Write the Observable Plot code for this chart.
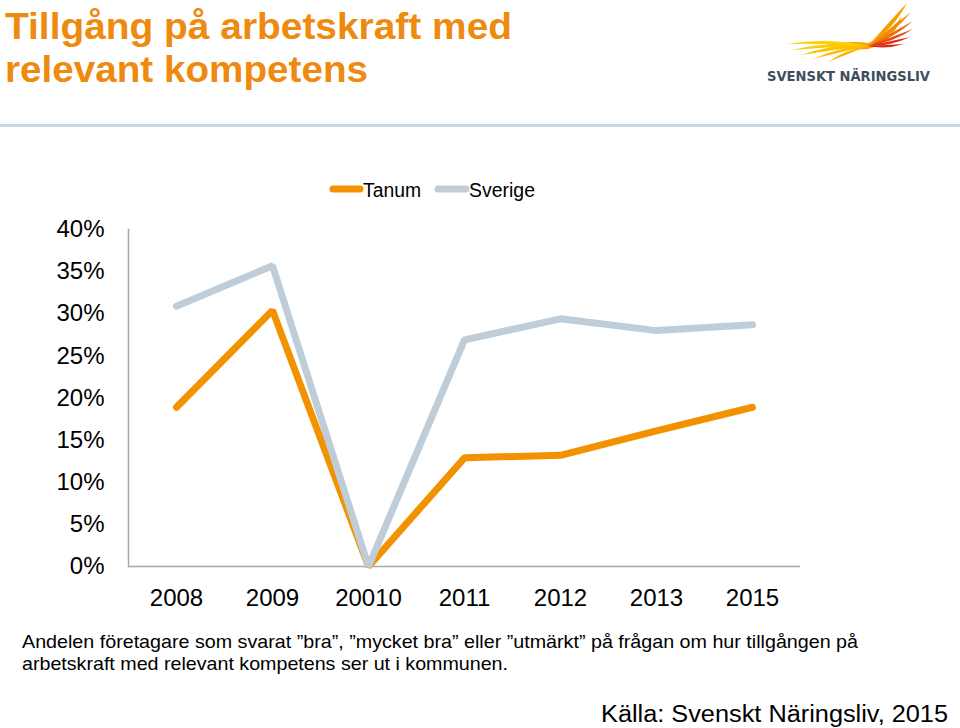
<!DOCTYPE html>
<html>
<head>
<meta charset="utf-8">
<script src="https://cdn.jsdelivr.net/npm/d3@7"></script>
<script src="https://cdn.jsdelivr.net/npm/@observablehq/plot@0.6"></script>
<style>
  html, body { margin: 0; padding: 0; background: #fff; }
  #wrap { position: relative; width: 960px; height: 728px; overflow: hidden; font-family: "Liberation Sans", Arial, sans-serif; }
  #wrap > svg { position: absolute; left: 0; top: 0; }
  #overlay { pointer-events: none; }
</style>
</head>
<body>
<div id="wrap"></div>
<script>
// ---- data ----
const years = ["2008", "2009", "20010", "2011", "2012", "2013", "2015"];
const tanum = [0.189, 0.304, 0.0, 0.129, 0.132, 0.161, 0.189];
const sverige = [0.309, 0.357, 0.0, 0.269, 0.294, 0.280, 0.287];
const seriesNames = ["Tanum", "Sverige"];
const seriesColors = ["#F39200", "#BFCDD9"];
const yTicks = [0, 0.05, 0.10, 0.15, 0.20, 0.25, 0.30, 0.35, 0.40];

const titleLines = ["Tillgång på arbetskraft med", "relevant kompetens"];
const captionLines = [
  "Andelen företagare som svarat ”bra”, ”mycket bra” eller ”utmärkt” på frågan om hur tillgången på",
  "arbetskraft med relevant kompetens ser ut i kommunen."
];
const sourceText = "Källa: Svenskt Näringsliv, 2015";
const logoText = "SVENSKT NÄRINGSLIV";

const rows = [];
years.forEach((y, i) => rows.push({year: y, value: tanum[i], series: "Tanum"}));
years.forEach((y, i) => rows.push({year: y, value: sverige[i], series: "Sverige"}));

const font = "'Liberation Sans', Arial, sans-serif";

const chart = Plot.plot({
  width: 960,
  height: 728,
  marginLeft: 128,
  marginRight: 160,
  marginTop: 229,
  marginBottom: 162,
  style: {fontFamily: font, background: "transparent", color: "#000"},
  x: {type: "point", domain: years, padding: 0.5},
  y: {domain: [0, 0.4]},
  color: {domain: seriesNames, range: seriesColors},
  marks: [
    Plot.frame({anchor: "left", stroke: "#A8A8A8", strokeWidth: 1.5}),
    Plot.ruleY([0], {stroke: "#A8A8A8", strokeWidth: 1.5}),
    Plot.axisY({ticks: yTicks, tickFormat: d3.format(".0%"), tickSize: 0, tickPadding: 24, fontSize: 24, label: null}),
    Plot.axisX({tickSize: 0, tickPadding: 22, fontSize: 24, label: null}),
    Plot.line(rows, {x: "year", y: "value", z: "series", stroke: "series", strokeWidth: 7, strokeLinecap: "round", strokeLinejoin: "miter"})
  ]
});
document.getElementById("wrap").appendChild(chart);

// ---- overlay: title, logo, legend, caption ----
const ov = d3.select("#wrap").append("svg").attr("id", "overlay")
  .attr("width", 960).attr("height", 728);

const titleWidths = [507, 363];
ov.selectAll("text.title").data(titleLines).join("text")
  .attr("x", 5).attr("y", (d, i) => 39 + i * 43)
  .attr("font-family", font).attr("font-weight", "bold").attr("font-size", 37)
  .attr("textLength", (d, i) => titleWidths[i]).attr("lengthAdjust", "spacingAndGlyphs")
  .attr("fill", "#EE8A10").text(d => d);

// separator
ov.append("rect").attr("x", 0).attr("y", 124).attr("width", 960).attr("height", 3).attr("fill", "#CCD6E0");

// logo (decorative wing): feathers radiating from a root point
const root = [868, 46];
const feathers = [
  {tip: [787, 44], c: "#FDD000", w: 3.2},
  {tip: [792, 50], c: "#FDCB00", w: 3.0},
  {tip: [801, 55], c: "#FCC400", w: 3.0},
  {tip: [813, 59], c: "#FBBE00", w: 2.8},
  {tip: [828, 62], c: "#F9B500", w: 2.6},
  {tip: [907, 3], c: "#F6A000", w: 4.2},
  {tip: [911, 12], c: "#F28A0A", w: 3.4},
  {tip: [913, 21], c: "#EE6E14", w: 3.0},
  {tip: [913, 29], c: "#E84A18", w: 2.8},
  {tip: [910, 37], c: "#E3301B", w: 2.6},
  {tip: [904, 44], c: "#DE241C", w: 2.4}
];
function featherPath(r, t, w) {
  const mx = (r[0] + t[0]) / 2, my = (r[1] + t[1]) / 2;
  const dx = t[0] - r[0], dy = t[1] - r[1];
  const L = Math.hypot(dx, dy);
  const px = -dy / L * w, py = dx / L * w;
  const bend = 0.06;
  const bx = mx + (-dy) * bend, by = my + dx * bend;
  return `M${r[0]},${r[1]} Q${bx + px},${by + py} ${t[0]},${t[1]} Q${bx - px},${by - py} ${r[0]},${r[1]} Z`;
}
ov.append("path").attr("d", "M820,46 Q850,40 868,43 Q886,38 902,16 Q892,44 868,49 Q848,50 820,46 Z").attr("fill", "#F7A600");
ov.append("g").selectAll("path").data(feathers).join("path")
  .attr("d", d => featherPath(root, d.tip, d.w)).attr("fill", d => d.c);
ov.append("text").attr("x", 767).attr("y", 81)
  .attr("font-family", "'DejaVu Sans Condensed', 'DejaVu Sans', sans-serif").attr("font-weight", "bold")
  .attr("font-size", 14.5).attr("fill", "#3E4E5C")
  .attr("textLength", 163).attr("lengthAdjust", "spacingAndGlyphs").text(logoText);

// legend
const legendItems = [
  {name: seriesNames[0], color: seriesColors[0], x1: 333, x2: 360, tx: 363, w: 58},
  {name: seriesNames[1], color: seriesColors[1], x1: 438, x2: 466, tx: 469, w: 66}
];
const lg = ov.append("g");
legendItems.forEach(it => {
  lg.append("line").attr("x1", it.x1).attr("x2", it.x2).attr("y1", 189).attr("y2", 189)
    .attr("stroke", it.color).attr("stroke-width", 7).attr("stroke-linecap", "round");
  lg.append("text").attr("x", it.tx).attr("y", 197).attr("font-family", font).attr("font-size", 19.5)
    .attr("textLength", it.w).attr("lengthAdjust", "spacingAndGlyphs")
    .attr("fill", "#000").text(it.name);
});

// caption
const captionWidths = [836, 486];
ov.selectAll("text.cap").data(captionLines).join("text")
  .attr("x", 22).attr("y", (d, i) => 648 + i * 22)
  .attr("font-family", font).attr("font-size", 18.5)
  .attr("textLength", (d, i) => captionWidths[i]).attr("lengthAdjust", "spacingAndGlyphs")
  .attr("fill", "#000").text(d => d);

ov.append("text").attr("x", 601).attr("y", 722)
  .attr("font-family", font).attr("font-size", 23.5)
  .attr("textLength", 347).attr("lengthAdjust", "spacingAndGlyphs")
  .attr("fill", "#000").text(sourceText);
</script>
</body>
</html>
